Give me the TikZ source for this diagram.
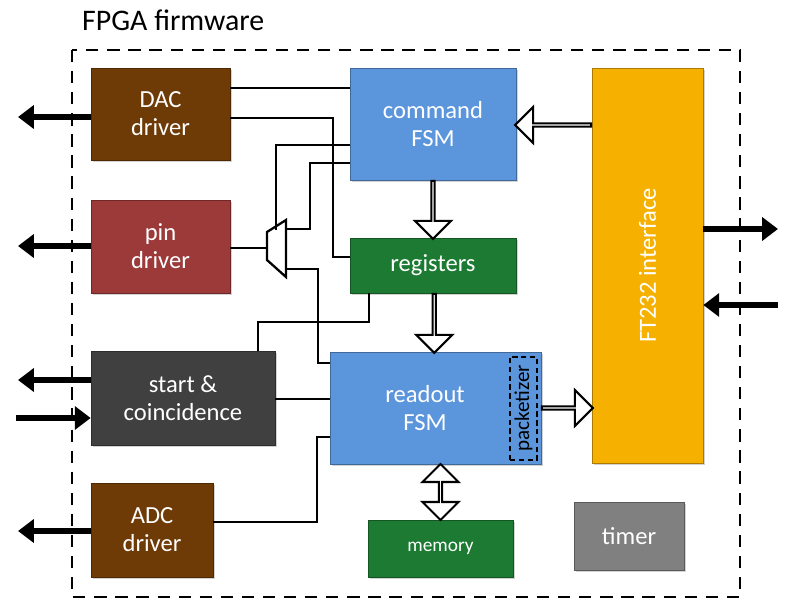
\documentclass[tikz,border=0pt]{standalone}
\usepackage{fontspec}
\setmainfont{Carlito}
\usetikzlibrary{shapes.arrows,shadows,calc,arrows.meta}
\definecolor{dacbrown}{HTML}{6E3A06}
\definecolor{pinred}{HTML}{9C3A3A}
\definecolor{startgray}{HTML}{404040}
\definecolor{fsmblue}{HTML}{5B95DB}
\definecolor{regsgreen}{HTML}{1C7A32}
\definecolor{timergray}{HTML}{808080}
\definecolor{ftorange}{HTML}{F5B000}
\tikzset{
    block/.style={draw=#1!70!black, fill=#1, text=white, align=center,
        font=\fontsize{14}{16}\selectfont, inner sep=0pt, line width=.4pt,
        drop shadow={opacity=.35, shadow xshift=1pt, shadow yshift=-1pt}},
    wire/.style={line width=1.3pt},
    ext/.style={line width=3pt, -{Triangle[length=9pt,width=13pt]}},
    hollow/.style={single arrow, draw=black, fill=white, line width=1.2pt,
        minimum width=36*0.02cm, single arrow head extend=6pt, inner sep=0pt,
        single arrow head indent=0pt},
}
\begin{document}
\begin{tikzpicture}[x=0.02cm, y=-0.02cm]
            \useasboundingbox (0,0) rectangle (792,615);
            \node[anchor=west, font=\fontsize{17}{20}\selectfont] (title) at (76,20) {FPGA firmware};
            \draw[line width=1.3pt, dash pattern=on 7pt off 5pt] (72,50) rectangle (740,597);
            % Left blocks
            \node[block=dacbrown, minimum width=139*0.02cm, minimum height=92*0.02cm] (DAC) at (160.5,114) {DAC\\driver};
            \node[block=pinred, minimum width=139*0.02cm, minimum height=93*0.02cm] (Pin) at (160.5,246.5) {pin\\driver};
            \node[block=startgray, minimum width=184*0.02cm, minimum height=94*0.02cm] (Start) at (183,398) {start \&\\coincidence};
            \node[block=dacbrown, minimum width=122*0.02cm, minimum height=94*0.02cm] (ADC) at (152,530) {ADC\\driver};
            % Middle blocks
            \node[block=fsmblue, minimum width=166*0.02cm, minimum height=112*0.02cm] (Command) at (433,124) {command\\FSM};
            \node[block=regsgreen, minimum width=166*0.02cm, minimum height=55*0.02cm] (Registers) at (433,265.5) {registers};
            \node[block=fsmblue, minimum width=211*0.02cm, minimum height=112*0.02cm] (Readout) at (435.5,408) {};
            \node (ReadoutText) at (425,408) [text=white, align=center, font=\fontsize{14}{16}\selectfont] {readout\\FSM};
            \node[draw, dash pattern=on 3pt off 2pt, line width=.8pt, minimum width=27*0.02cm, minimum height=103*0.02cm, inner sep=0pt] (Packetizer) at (523.5,408.5) {};
            \node[rotate=90, font=\fontsize{12}{14}\selectfont] at (Packetizer) {packetizer};
            \node[block=regsgreen, minimum width=145*0.02cm, minimum height=57*0.02cm, font=\fontsize{11}{13}\selectfont] (Memory) at (440.5,548.5) {memory};
            % Right blocks
            \node[block=ftorange, minimum width=111*0.02cm, minimum height=395*0.02cm] (FT) at (647.5,265.5) {};
            \node[rotate=90, text=white, font=\fontsize{14}{16}\selectfont] at (FT) {FT232 interface};
            \node[block=timergray, minimum width=110*0.02cm, minimum height=68*0.02cm] (Timer) at (629,536) {timer};
            % Mux
            \coordinate (MuxTL) at (267,232);
            \coordinate (MuxBL) at (267,260);
            \coordinate (MuxTR) at (286,220);
            \coordinate (MuxBR) at (286,277);
            \draw[wire, fill=white] (MuxTL) -- (MuxTR) -- (MuxBR) -- (MuxBL) -- cycle;
            % Wires
            \draw[wire] (DAC.east |- 0,88) -- (Command.west |- 0,88);
            \draw[wire] (DAC.east |- 0,118) -- (333,118) |- (Registers.west |- 0,257);
            \draw[wire] (Pin.east |- 0,248) -- (MuxTL |- 0,248);
            \draw[wire] (276,230) |- (Command.west |- 0,145);
            \draw[wire] (MuxTR |- 0,229) -- (310,229) |- (Command.west |- 0,163);
            \draw[wire] (MuxBR |- 0,269) -- (318,269) |- (Readout.west |- 0,363);
            \draw[wire] (Registers.south -| 369,0) |- (258,322) -- (Start.north -| 258,0);
            \draw[wire] (Start.east |- 0,399) -- (Readout.west |- 0,399);
            \draw[wire] (ADC.east |- 0,522) -- (317,522) |- (Readout.west |- 0,437);
            % External arrows
            \coordinate (DACout) at (18,117);
            \coordinate (Pinout) at (18,246);
            \coordinate (Startout) at (18,380);
            \coordinate (Startin) at (16,418);
            \coordinate (ADCout) at (18,531);
            \coordinate (FTout) at (778,229);
            \coordinate (FTin) at (778,305);
            \draw[ext] (DAC.west |- DACout) -- (DACout);
            \draw[ext] (Pin.west |- Pinout) -- (Pinout);
            \draw[ext] (Start.west |- Startout) -- (Startout);
            \draw[ext] (Startin) -- (Start.west |- Startin);
            \draw[ext] (ADC.west |- ADCout) -- (ADCout);
            \draw[ext] (FT.east |- FTout) -- (FTout);
            \draw[ext] (FTin) -- (FT.east |- FTin);
            % Hollow arrows
            \node[hollow, shape border rotate=180, minimum height=76*0.02cm] at ($(Command.east |- 0,125)!.5!(FT.west |- 0,125)$) {};
            \node[hollow, shape border rotate=270, minimum height=58*0.02cm] at ($(Command.south)!.5!(Registers.north)$) {};
            \node[hollow, shape border rotate=270, minimum height=59*0.02cm] at ($(Registers.south)!.5!(Readout.north)$) {};
            \node[hollow, minimum height=51*0.02cm] at ($(Readout.east |- 0,408)!.5!(FT.west |- 0,408)$) {};
            \node[double arrow, draw=black, fill=white, line width=1.2pt, minimum width=36*0.02cm,
                double arrow head extend=6pt, inner sep=0pt, shape border rotate=90, minimum height=56*0.02cm]
                at ($(Readout.south -| Memory)!.5!(Memory.north)$) {};
\end{tikzpicture}
\end{document}
